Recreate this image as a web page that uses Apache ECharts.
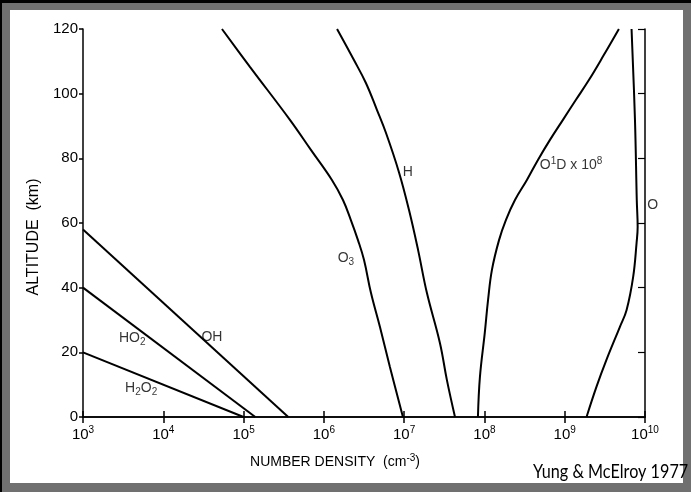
<!DOCTYPE html>
<html>
<head>
<meta charset="utf-8">
<script src="https://cdn.jsdelivr.net/npm/echarts@6/dist/echarts.min.js"></script>
<style>
  html, body { margin: 0; padding: 0; background: #000; }
  #gray { position: absolute; left: 2px; top: 3px; width: 689px; height: 489px; background: #707070; }
  #white { position: absolute; left: 10px; top: 10px; width: 673px; height: 473px; background: #fff; }
  #chart { position: absolute; left: 0; top: 0; width: 691px; height: 492px; }
</style>
</head>
<body>
<div id="gray"></div>
<div id="white"></div>
<div id="chart"></div>
<script>
// ---- data (number density in cm^-3, altitude in km) ----
const xTickExponents = ['3', '4', '5', '6', '7', '8', '9', '10'];
const yTicks = [0, 20, 40, 60, 80, 100, 120];

const ohDensity   = [1.0e3, 3.6e5];
const ohAltitude  = [58, 0];
const ho2Density  = [1.0e3, 1.4e5];
const ho2Altitude = [40, 0];
const h2o2Density = [1.0e3, 1.0e5];
const h2o2Altitude= [20, 0];

const o3Density  = [5.38e4, 1.2e5, 3.78e5, 6.9e5, 1.26e6, 1.73e6, 2.17e6, 2.66e6, 3.16e6, 3.86e6, 5.0e6, 6.65e6, 9.66e6];
const o3Altitude = [120, 108.3, 91.9, 82.6, 73.3, 67.1, 60.9, 54.7, 48.6, 38.4, 27.8, 15.5, 0];

const hDensity  = [1.46e6, 2.37e6, 3.34e6, 4.58e6, 5.93e6, 8.6e6, 1.15e7, 1.49e7, 1.92e7, 2.79e7, 3.41e7, 4.3e7];
const hAltitude = [120, 110.4, 103.3, 95.0, 87.9, 75.8, 64.0, 51.7, 38.4, 22.9, 11.4, 0];

const o1dDensity  = [4.73e9, 3.08e9, 2.0e9, 1.38e9, 9.5e8, 6.55e8, 4.64e8, 3.38e8, 2.4e8, 1.85e8, 1.52e8, 1.24e8, 1.11e8, 1.01e8, 8.79e7, 8.3e7];
const o1dAltitude = [120, 112.0, 104.2, 98.1, 91.9, 85.7, 79.5, 73.3, 67.1, 60.9, 54.7, 45.5, 36.2, 26.0, 12.4, 0];

const oDensity  = [6.8e9, 7.5e9, 7.9e9, 8.1e9, 7.85e9, 7.13e9, 5.9e9, 4.87e9, 3.3e9, 2.49e9, 1.87e9];
const oAltitude = [120, 91.9, 67, 58.8, 53.8, 43.4, 33.1, 27.9, 17.6, 9.4, 0];

const curveLabels  = ['{t|OH}', '{t|HO}{sub|2}', '{t|H}{sub|2}{t|O}{sub|2}', '{t|O}{sub|3}', '{t|H}', '{t|O}{sup|1}{t|D x 10}{sup|8}', '{t|O}'];
const labelDensity = [4.04e4, 4.1e3, 5.3e3, 1.88e6, 1.11e7, 4.9e8, 1.25e10];
const labelAltitude= [24.7, 24.4, 9, 49.2, 75.8, 78, 65.6];
const labelAlign   = ['center', 'center', 'center', 'center', 'center', 'left', 'center'];

// ---- build ----
function pairs(xs, ys) { return xs.map((x, i) => [x, ys[i]]); }
const FONT = 'Liberation Sans';
const black = '#000';

function curve(name, xs, ys, smooth) {
  return {
    name: name, type: 'line', data: pairs(xs, ys), showSymbol: false, symbol: 'none',
    smooth: smooth, lineStyle: { color: black, width: 2 }, silent: true, z: 3
  };
}

const labelRich = {
  t: { fontSize: 14, fontFamily: FONT, color: black },
  sub: { fontSize: 10, fontFamily: FONT, color: black, padding: [8, 0, 0, 0] },
  sup: { fontSize: 10, fontFamily: FONT, color: black, padding: [0, 0, 8, 0] }
};

const chart = echarts.init(document.getElementById('chart'), null, { renderer: 'canvas' });
const axisLineStyle = { color: black, width: 1.5 };

chart.setOption({
  animation: false,
  backgroundColor: 'transparent',
  grid: { left: 83, right: 46, top: 29, bottom: 75, containLabel: false },
  xAxis: [
    {
      type: 'log', logBase: 10, min: 1e3, max: 1e10, position: 'bottom',
      axisLine: { show: true, lineStyle: axisLineStyle },
      axisTick: { show: true, inside: true, length: 6, lineStyle: axisLineStyle },
      minorTick: { show: false }, splitLine: { show: false },
      axisLabel: {
        margin: 8,
        formatter: function (v) {
          const e = String(Math.round(Math.log10(v)));
          const idx = xTickExponents.indexOf(e);
          return idx < 0 ? '' : '{b|10}{s|' + xTickExponents[idx] + '}';
        },
        rich: {
          b: { fontSize: 15, fontFamily: FONT, color: black },
          s: { fontSize: 10, fontFamily: FONT, color: black, padding: [0, 0, 10, 0] }
        }
      },
      name: '{n|NUMBER DENSITY  (cm}{s|-3}{n|)}',
      nameLocation: 'middle', nameGap: 36,
      nameTextStyle: {
        padding: [0, 58, 0, 0],
        rich: {
          n: { fontSize: 14, fontFamily: FONT, color: black },
          s: { fontSize: 10, fontFamily: FONT, color: black, padding: [0, 0, 8, 0] }
        }
      }
    },
    {
      type: 'log', logBase: 10, min: 1e3, max: 1e10, position: 'top',
      axisLine: { show: true, lineStyle: axisLineStyle },
      axisTick: { show: true, inside: true, length: 6, lineStyle: axisLineStyle },
      minorTick: { show: false }, splitLine: { show: false },
      axisLabel: { show: false }
    }
  ],
  yAxis: [
    {
      type: 'value', min: 0, max: 120, interval: 20, position: 'left',
      axisLine: { show: true, lineStyle: axisLineStyle },
      axisTick: { show: true, inside: false, length: 4, lineStyle: axisLineStyle },
      splitLine: { show: false },
      axisLabel: {
        margin: 5, fontSize: 15, fontFamily: FONT, color: black,
        formatter: function (v) { return yTicks.indexOf(v) >= 0 ? String(v) : ''; }
      },
      name: 'ALTITUDE  (km)', nameLocation: 'middle', nameGap: 38, nameRotate: 90,
      nameTextStyle: { fontSize: 16, fontFamily: FONT, color: black, padding: [0, 28, 0, 0] }
    },
    {
      type: 'value', min: 0, max: 120, interval: 20, position: 'right',
      axisLine: { show: true, lineStyle: axisLineStyle },
      axisTick: { show: true, inside: true, length: 7, lineStyle: { color: black, width: 1.2 } },
      splitLine: { show: false }, axisLabel: { show: false }
    }
  ],
  series: [
    curve('OH', ohDensity, ohAltitude, false),
    curve('HO2', ho2Density, ho2Altitude, false),
    curve('H2O2', h2o2Density, h2o2Altitude, false),
    curve('O3', o3Density, o3Altitude, 0.4),
    curve('H', hDensity, hAltitude, 0.4),
    curve('O1D', o1dDensity, o1dAltitude, 0.4),
    curve('O', oDensity, oAltitude, 0.4),
    {
      name: 'labels', type: 'scatter', symbolSize: 0, clip: false, silent: true, z: 5,
      data: labelDensity.map((x, i) => [x, labelAltitude[i]]),
      label: {
        show: true, position: 'inside',
        formatter: function (p) { return curveLabels[p.dataIndex]; },
        rich: labelRich
      },
      labelLayout: function (params) {
        return { align: labelAlign[params.dataIndex] };
      }
    }
  ],
  graphic: [
    {
      type: 'text', left: 533, top: 462, scaleX: 0.81, originX: 0,
      style: { text: 'Yung & McElroy 1977', font: '20px Lato', fill: '#000' }
    }
  ]
});
</script>
</body>
</html>
